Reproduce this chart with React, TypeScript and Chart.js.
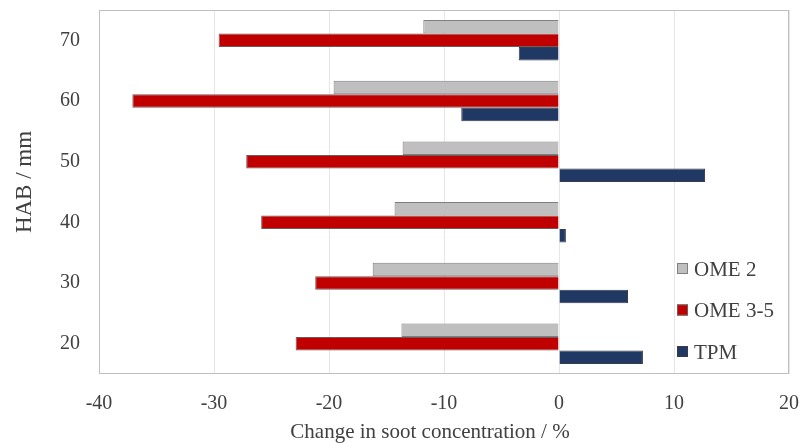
import React, { useEffect, useRef } from "react";
import { Chart, registerables } from "chart.js";

Chart.register(...registerables);

const categories = ["70", "60", "50", "40", "30", "20"];
const ome2 = [-11.8, -19.6, -13.6, -14.3, -16.2, -13.7];
const ome35 = [-29.6, -37.1, -27.2, -25.9, -21.2, -22.9];
const tpm = [-3.5, -8.5, 12.7, 0.6, 6.0, 7.3];
const seriesNames = ["OME 2", "OME 3-5", "TPM"];
const xTicks = [-40, -30, -20, -10, 0, 10, 20];
const xTitle = "Change in soot concentration / %";
const yTitle = "HAB / mm";

const FONT = "'Liberation Serif', 'DejaVu Serif', serif";
const TEXT = "#404040";

const frameAndLegend = {
  id: "frameAndLegend",
  afterDatasetsDraw(chart: any) {
    const { ctx, chartArea } = chart;
    ctx.save();
    ctx.strokeStyle = "#bfbfbf";
    ctx.lineWidth = 1;
    ctx.strokeRect(
      Math.round(chartArea.left) + 0.5,
      Math.round(chartArea.top) + 0.5,
      Math.round(chartArea.right - chartArea.left) - 1,
      Math.round(chartArea.bottom - chartArea.top) - 1
    );
    // legend inside plot, bottom-right
    const x0 = chartArea.right - 112;
    const yStart = chartArea.bottom - 105;
    const gap = 41.5;
    ctx.font = `21px ${FONT}`;
    ctx.textBaseline = "middle";
    ctx.textAlign = "left";
    chart.data.datasets.forEach((ds: any, i: number) => {
      const y = yStart + i * gap;
      ctx.fillStyle = ds.backgroundColor;
      ctx.fillRect(x0, y - 6, 11, 11);
      ctx.strokeStyle = ds.borderColor;
      ctx.lineWidth = 1;
      ctx.strokeRect(x0 + 0.5, y - 5.5, 10, 10);
      ctx.fillStyle = TEXT;
      ctx.fillText(ds.label, x0 + 17, y + 1);
    });
    // axis titles
    ctx.fillStyle = TEXT;
    ctx.textAlign = "center";
    ctx.textBaseline = "middle";
    ctx.font = `21px ${FONT}`;
    ctx.fillText(xTitle, (chartArea.left + chartArea.right) / 2 - 14, 432);
    ctx.translate(25, (chartArea.top + chartArea.bottom) / 2 - 10);
    ctx.rotate(-Math.PI / 2);
    ctx.font = `23px ${FONT}`;
    ctx.fillText(yTitle, 0, 0);
    ctx.restore();
  },
};

export default function App() {
  const ref = useRef<HTMLCanvasElement | null>(null);
  useEffect(() => {
    if (!ref.current) return;
    const chart = new Chart(ref.current, {
      type: "bar",
      data: {
        labels: categories,
        datasets: [
          { label: seriesNames[0], data: ome2, backgroundColor: "#bfbfbf", borderColor: "#7f7f7f", borderWidth: 1 },
          { label: seriesNames[1], data: ome35, backgroundColor: "#c00000", borderColor: "#6e5a5a", borderWidth: 1 },
          { label: seriesNames[2], data: tpm, backgroundColor: "#1f3864", borderColor: "#3a3a4a", borderWidth: 1 },
        ],
      },
      options: {
        indexAxis: "y",
        responsive: false,
        animation: false,
        datasets: { bar: { categoryPercentage: 0.667, barPercentage: 1.0 } },
        layout: { padding: { top: 10, right: 11, bottom: 0, left: 0 } },
        plugins: { legend: { display: false }, tooltip: { enabled: false } },
        scales: {
          x: {
            min: xTicks[0],
            max: xTicks[xTicks.length - 1],
            afterBuildTicks: (scale: any) => {
              scale.ticks = xTicks.map((v) => ({ value: v }));
            },
            afterFit: (scale: any) => {
              scale.height = 69;
            },
            grid: { color: "#e6e6e6", drawTicks: true, tickLength: 20, tickColor: "rgba(0,0,0,0)", lineWidth: 1 },
            border: { display: false },
            ticks: { color: TEXT, font: { family: FONT, size: 20, lineHeight: 1.0 }, padding: 0 },
            title: { display: false },
          },
          y: {
            afterFit: (scale: any) => {
              scale.width = 99;
            },
            grid: { display: true, color: "rgba(0,0,0,0)", drawTicks: true, tickLength: 19, tickColor: "rgba(0,0,0,0)" },
            border: { display: false },
            ticks: { color: TEXT, font: { family: FONT, size: 20, lineHeight: 1.0 }, padding: 0 },
            title: { display: false },
          },
        },
      },
      plugins: [frameAndLegend],
    });
    return () => chart.destroy();
  }, []);
  return (
    <div style={{ position: "absolute", left: 0, top: 0, width: 800, height: 443, background: "#fff" }}>
      <canvas ref={ref} width={800} height={443} style={{ display: "block" }} />
    </div>
  );
}
